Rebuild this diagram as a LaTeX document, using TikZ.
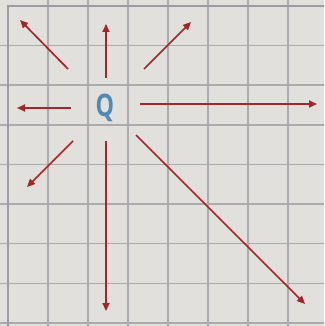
\documentclass[tikz,border=0pt]{standalone}
\usepackage{fontspec}
\setsansfont{Open Sans}
\usetikzlibrary{arrows.meta}
\definecolor{paper}{HTML}{E1E0DC}
\definecolor{gridc}{HTML}{ABABAE}
\definecolor{borderc}{HTML}{9C9CA2}
\definecolor{arrowc}{HTML}{A3262A}
\definecolor{qblue}{HTML}{4F89B5}
\begin{document}
\begin{tikzpicture}[x=1pt,y=-1pt,
  gridline/.style={draw=gridc,line width=1.4pt},
  borderline/.style={draw=borderc,line width=2.8pt},
  fieldarrow/.style={draw=arrowc,line width=1.7pt,-{Triangle[length=8pt,width=7pt]}},
  charge/.style={text=qblue,font=\sffamily\bfseries\fontsize{31}{31}\selectfont,inner sep=0pt}]
\fill[paper] (0,0) rectangle (324,326);
\useasboundingbox (0,0) rectangle (324,326);
\foreach \i in {1,...,7} \draw[gridline] (8+40*\i,0) -- (8+40*\i,326);
\foreach \j in {1,...,8} \draw[gridline] (0,6+39.6*\j) -- (324,6+39.6*\j);
\draw[borderline] (8,326) -- (8,6) -- (324,6);
\node[charge] (q) at (105,108) {\scalebox{0.75}[1]{Q}};
% start and end points
\coordinate (su) at (106,78);   \coordinate (eu) at (106,24);
\coordinate (sul) at (68,69);   \coordinate (eul) at (20,20);
\coordinate (sur) at (144,69);  \coordinate (eur) at (191,22);
\coordinate (sl) at (71,108);   \coordinate (el) at (17,108);
\coordinate (sr) at (140,104);  \coordinate (er) at (317,104);
\coordinate (sdl) at (73,141);  \coordinate (edl) at (27,187);
\coordinate (sd) at (106,141);  \coordinate (ed) at (106,311);
\coordinate (sdr) at (136,135); \coordinate (edr) at (305,304);
\foreach \a/\b in {su/eu,sul/eul,sur/eur,sl/el,sr/er,sdl/edl,sd/ed,sdr/edr}
  \draw[fieldarrow] (\a) -- (\b);
\end{tikzpicture}
\end{document}
